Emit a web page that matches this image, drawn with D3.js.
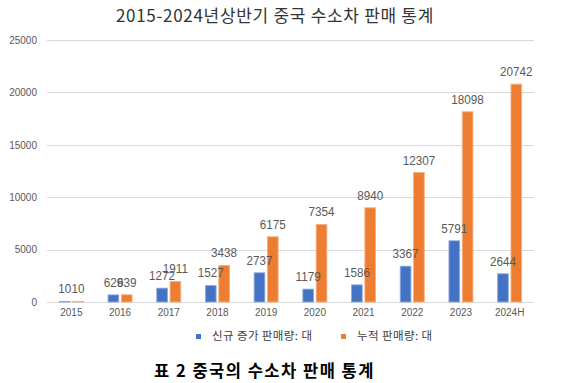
<!DOCTYPE html>
<html><head><meta charset="utf-8">
<script src="https://cdn.jsdelivr.net/npm/d3@7/dist/d3.min.js"></script>
<style>
html,body{margin:0;padding:0;background:#fff;}
svg{display:block;}
</style></head>
<body>
<script>
const categories = ["2015","2016","2017","2018","2019","2020","2021","2022","2023","2024H"];
const newSales = [10, 629, 1272, 1527, 2737, 1179, 1586, 3367, 5791, 2644];
const cumSales = [10, 639, 1911, 3438, 6175, 7354, 8940, 12307, 18098, 20742];
const seriesNames = ["신규 증가 판매량: 대", "누적 판매량: 대"];
const seriesColors = ["#4472C4", "#ED7D31"];
const seriesEdge = ["#8FAADC", "#F4B183"];
const yTicks = [0, 5000, 10000, 15000, 20000, 25000];
const titleText = "2015-2024년상반기 중국 수소차 판매 통계";
const captionText = "표 2 중국의 수소차 판매 통계";

const W = 571, H = 383;
const svg = d3.select("body").append("svg").attr("width", W).attr("height", H);
const kr = "'Noto Sans CJK KR', 'Noto Sans', sans-serif";
const num = "'Liberation Sans', Arial, sans-serif";

const x0 = d3.scaleBand().domain(categories).range([47, 534]).padding(0);
const x1 = d3.scaleBand().domain([0, 1]).range([x0.bandwidth()/2 - 12, x0.bandwidth()/2 + 12]).paddingInner(0.2);
const y = d3.scaleLinear().domain([0, 25000]).range([302, 40]);

// title
svg.append("text").attr("x", 275).attr("y", 22).attr("text-anchor", "middle")
  .attr("font-family", kr).attr("font-size", 17).attr("fill", "#333")
  .attr("letter-spacing", 0.7).text(titleText);

// gridlines
svg.append("g").selectAll("line").data(yTicks).join("line")
  .attr("x1", 47).attr("x2", 534).attr("y1", d => Math.round(y(d)) + 0.5).attr("y2", d => Math.round(y(d)) + 0.5)
  .attr("stroke", "#d9d9d9").attr("stroke-width", 1);

// y axis labels
const yAxis = d3.axisLeft(y).tickValues(yTicks).tickSize(0).tickPadding(0).tickFormat(d3.format("d"));
const yg = svg.append("g").attr("transform", "translate(37,0)").call(yAxis);
yg.select(".domain").remove();
yg.selectAll("text").attr("font-family", num).attr("font-size", 10).attr("fill", "#595959");

// x axis labels
const xAxis = d3.axisBottom(x0).tickSize(0).tickPadding(0);
const xg = svg.append("g").attr("transform", "translate(0,309)").call(xAxis);
xg.select(".domain").remove();
xg.selectAll("text").attr("font-family", num).attr("font-size", 10).attr("fill", "#595959").attr("dy", "0.71em");

// bars
const series = [newSales, cumSales];
const groups = svg.append("g").selectAll("g").data(categories).join("g")
  .attr("transform", d => `translate(${x0(d)},0)`);
groups.selectAll("rect").data((d, i) => series.map((s, k) => ({k, v: s[i]}))).join("rect")
  .attr("x", d => x1(d.k)).attr("width", x1.bandwidth())
  .attr("y", d => y(d.v) - 0.5).attr("height", d => y(0) - y(d.v) + 0.5)
  .attr("fill", d => seriesColors[d.k])
  .attr("stroke", d => seriesEdge[d.k]).attr("stroke-width", 0.9);

// data labels
groups.selectAll("text.lbl").data((d, i) => series.map((s, k) => ({k, v: s[i]}))).join("text")
  .attr("class", "lbl")
  .attr("transform", d => `translate(${x1(d.k) + x1.bandwidth()/2},${y(d.v) - 8.5}) scale(0.9,1)`)
  .attr("text-anchor", "middle").attr("font-family", num).attr("font-size", 13)
  .attr("fill", "#595959").text(d => d.v);

// legend
const legX = [196, 341];
const leg = svg.append("g").selectAll("g").data(seriesNames).join("g")
  .attr("transform", (d, i) => `translate(${legX[i]},0)`);
leg.append("rect").attr("x", 0).attr("y", 334).attr("width", 5).attr("height", 5)
  .attr("fill", (d, i) => seriesColors[i]);
leg.append("text").attr("x", 16).attr("y", 340).attr("font-family", kr).attr("font-size", 11.5)
  .attr("letter-spacing", 0.4).attr("fill", "#404040").text(d => d);

// caption
svg.append("text").attr("x", 154).attr("y", 377).attr("font-family", kr).attr("font-size", 16.5)
  .attr("font-weight", "bold").attr("letter-spacing", 1.5).attr("fill", "#000").text(captionText);
</script>
</body></html>
